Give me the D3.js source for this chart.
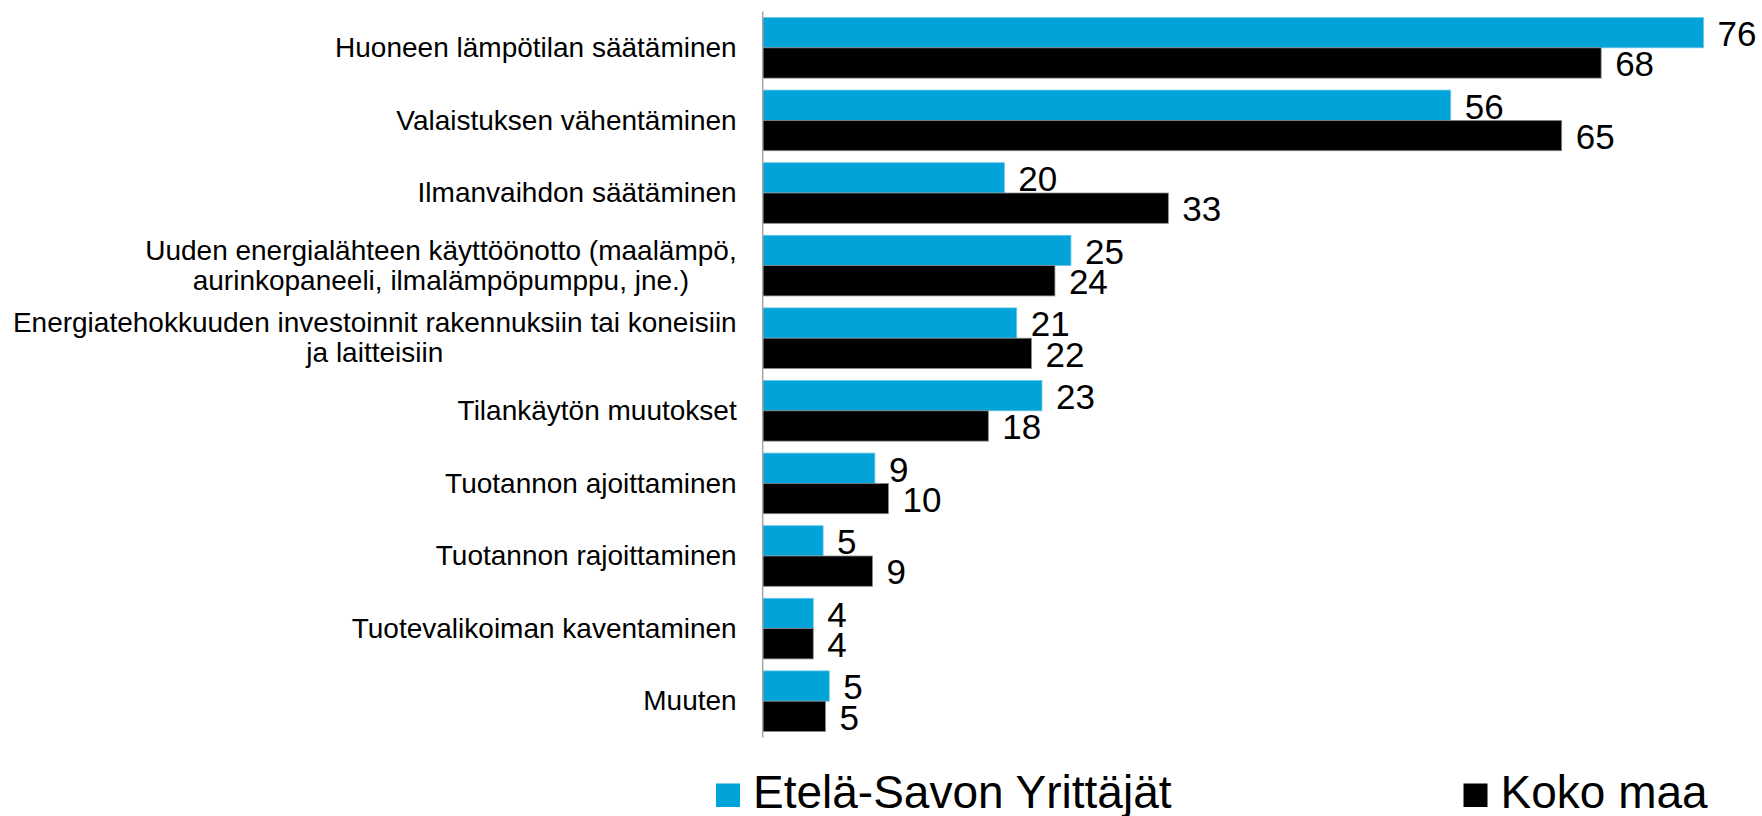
<!DOCTYPE html>
<html>
<head>
<meta charset="utf-8">
<script src="https://cdn.jsdelivr.net/npm/d3@7"></script>
<style>
  body { margin: 0; background: #fff; }
  text { font-family: Arial, "Liberation Sans", sans-serif; fill: #000; }
</style>
</head>
<body>
<div id="chart"></div>
<script>
// data
var categories = [
  "Huoneen lämpötilan säätäminen",
  "Valaistuksen vähentäminen",
  "Ilmanvaihdon säätäminen",
  "Uuden energialähteen käyttöönotto (maalämpö,\naurinkopaneeli, ilmalämpöpumppu, jne.)",
  "Energiatehokkuuden investoinnit rakennuksiin tai koneisiin\nja laitteisiin",
  "Tilankäytön muutokset",
  "Tuotannon ajoittaminen",
  "Tuotannon rajoittaminen",
  "Tuotevalikoiman kaventaminen",
  "Muuten"
];
var seriesNames = ["Etelä-Savon Yrittäjät", "Koko maa"];
var etelaSavo = [76.3, 55.8, 19.6, 25.0, 20.6, 22.65, 9.1, 4.9, 4.1, 5.4];
var kokoMaa   = [68.0, 64.8, 32.9, 23.7, 21.8, 18.3, 10.2, 8.9, 4.1, 5.1];
var colors = ["#02a3d9", "#000000"];

var width = 1762, height = 816;
var axisX = 762.7;

var svg = d3.select("#chart")
  .append("svg")
    .attr("width", width)
    .attr("height", height);

// scales
var x = d3.scaleLinear()
  .domain([0, 80])
  .range([axisX, axisX + 80 * 12.33]);

var y = d3.scaleBand()
  .domain(categories)
  .range([11.5, 737.5])
  .paddingInner(0.165)
  .paddingOuter(0.0825);

var ySub = d3.scaleBand()
  .domain([0, 1])
  .range([0, y.bandwidth()]);

var rows = categories.map(function(c, i) {
  return { cat: c, values: [etelaSavo[i], kokoMaa[i]] };
});

// bars
var groups = svg.selectAll(".grp")
  .data(rows)
  .enter()
  .append("g")
    .attr("class", "grp")
    .attr("transform", function(d) { return "translate(0," + y(d.cat) + ")"; });

groups.selectAll("rect")
  .data(function(d) { return d.values; })
  .enter()
  .append("rect")
    .attr("x", x(0))
    .attr("y", function(d, i) { return ySub(i); })
    .attr("width", function(d) { return x(d) - x(0); })
    .attr("height", ySub.bandwidth())
    .style("fill", function(d, i) { return colors[i]; })
    .style("stroke", function(d, i) { return i == 0 ? "#6cc6e8" : "#8a8a8a"; })
    .style("stroke-width", 0.8);

// value labels
groups.selectAll(".val")
  .data(function(d) { return d.values; })
  .enter()
  .append("text")
    .attr("class", "val")
    .attr("x", function(d) { return x(d) + 14; })
    .attr("y", function(d, i) { return ySub(i) + ySub.bandwidth() / 2; })
    .attr("dy", "0.38em")
    .style("font-size", "35px")
    .text(function(d) { return d3.format(".0f")(d); });

// vertical axis line
svg.append("line")
  .attr("x1", axisX).attr("x2", axisX)
  .attr("y1", 11.5).attr("y2", 737.5)
  .style("stroke", "#a6a6a6")
  .style("stroke-width", 1.5);

// category labels (multi-line ones centred within a right-aligned block)
var labelRight = axisX - 26;
var lineH = 30;
categories.forEach(function(c) {
  var lines = c.split("\n");
  var cy = y(c) + y.bandwidth() / 2;
  var t = svg.append("text")
    .style("font-size", "28px")
    .attr("text-anchor", lines.length > 1 ? "middle" : "end");
  lines.forEach(function(l, k) {
    t.append("tspan")
      .attr("y", cy + (k - (lines.length - 1) / 2) * lineH)
      .attr("dy", "0.33em")
      .text(l);
  });
  if (lines.length > 1) {
    var maxW = 0;
    t.selectAll("tspan").each(function() {
      maxW = Math.max(maxW, this.getComputedTextLength());
    });
    t.selectAll("tspan").attr("x", labelRight - maxW / 2);
  } else {
    t.selectAll("tspan").attr("x", labelRight);
  }
});

// legend
var legendX = [716, 1463.5];
seriesNames.forEach(function(name, i) {
  svg.append("rect")
    .attr("x", legendX[i]).attr("y", 783.5)
    .attr("width", 24).attr("height", 23.5)
    .style("fill", colors[i]);
  svg.append("text")
    .attr("x", legendX[i] + 37)
    .attr("y", 807.5)
    .style("font-size", "46px")
    .text(name);
});
</script>
</body>
</html>
